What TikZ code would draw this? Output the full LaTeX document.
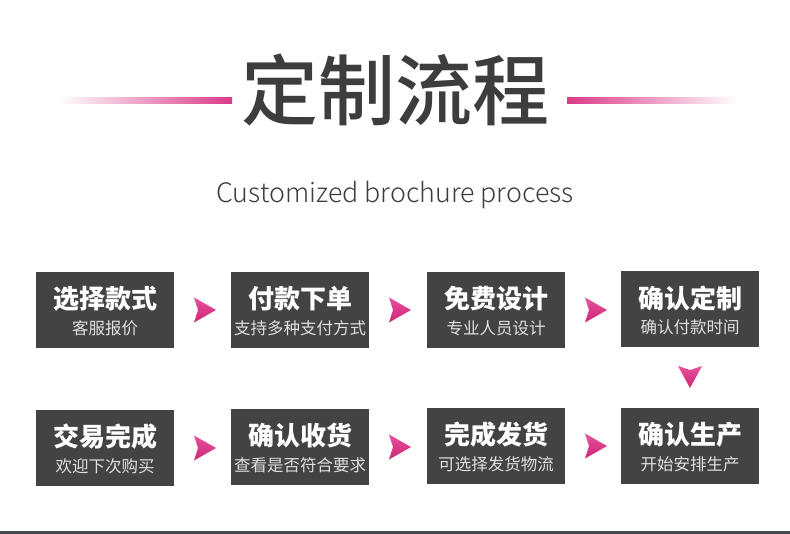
\documentclass[tikz,border=0pt]{standalone}
\usepackage{fontspec}
\newfontfamily\cjk{Noto Sans CJK SC}
\newfontfamily\cjkmed{Noto Sans CJK SC Medium}
\newfontfamily\cjklight{Noto Sans CJK SC Light}
\usetikzlibrary{calc}
\definecolor{boxgray}{HTML}{434343}
\definecolor{txtgray}{HTML}{3D3D3D}
\definecolor{pinkA}{HTML}{E8509F}
\definecolor{pinkB}{HTML}{CC2774}
\definecolor{linepink}{HTML}{DB3A88}
\definecolor{barcol}{HTML}{46464E}
\definecolor{subgray}{HTML}{E0E0E0}
\newcommand\procstep[5]{%
  \node[procbox, anchor=north west] (#1) at (#2,#3) {};
  \node[maintext] (#1-t) at ($(#1.center)+(0,-11)$) {#4};
  \node[subtext] (#1-s) at ($(#1.center)+(0,18)$) {#5};
}
\newcommand\rightarrowshape[1]{%
  \shade[arrowshade] (#1) ++(0,-12.5) -- ++(22,12.5) -- ++(-22,12.5) -- ++(4,-12.5) -- cycle;
}
\begin{document}
\begin{tikzpicture}[x=1pt,y=-1pt,
  procbox/.style={fill=boxgray, minimum width=138pt, minimum height=76pt, inner sep=0pt, outer sep=0pt},
  maintext/.style={text=white, font=\cjk\bfseries\fontsize{26}{26}\selectfont, inner sep=0pt},
  subtext/.style={text=subgray, font=\cjk\fontsize{16.5}{16.5}\selectfont, inner sep=0pt},
  arrowshade/.style={top color=pinkA, bottom color=pinkB, draw=none}]
\useasboundingbox (0,0) rectangle (790,534);
% title
\node[font=\cjkmed\fontsize{77}{77}\selectfont, text=txtgray, inner sep=0pt] (title) at (395,90) {定制流程};
\shade[left color=white, middle color=linepink!60, right color=linepink] (58,98) rectangle (232,104);
\shade[left color=linepink, middle color=linepink!60, right color=white] (567,98) rectangle (737,104);
\node[font=\cjklight\fontsize{26.8}{26.8}\selectfont, text=txtgray, anchor=base, inner sep=0pt] (subtitle) at (395,203) {Customized brochure process};
% boxes
\procstep{b1}{36}{272}{选择款式}{客服报价}
\procstep{b2}{231}{272}{付款下单}{支持多种支付方式}
\procstep{b3}{427}{272}{免费设计}{专业人员设计}
\procstep{b4}{621}{271}{确认定制}{确认付款时间}
\procstep{b5}{36}{410}{交易完成}{欢迎下次购买}
\procstep{b6}{231}{409}{确认收货}{查看是否符合要求}
\procstep{b7}{427}{408}{完成发货}{可选择发货物流}
\procstep{b8}{621}{408}{确认生产}{开始安排生产}
% arrows
\coordinate (a1) at ($(b1.east)+(20,0)$);
\coordinate (a2) at ($(b2.east)+(20,0)$);
\coordinate (a3) at ($(b3.east)+(20,0)$);
\coordinate (a5) at ($(b5.east)+(20,0)$);
\coordinate (a6) at ($(b6.east)+(20,0)$);
\coordinate (a7) at ($(b7.east)+(20,0)$);
\rightarrowshape{a1}
\rightarrowshape{a2}
\rightarrowshape{a3}
\rightarrowshape{a5}
\rightarrowshape{a6}
\rightarrowshape{a7}
\coordinate (a4) at ($(b4.south)+(0,19)$);
\shade[arrowshade] (a4) ++(-12,0) -- ++(12,22) -- ++(12,-22) -- ++(-12,4) -- cycle;
% bottom bar
\fill[barcol] (0,531) rectangle (790,534);
\end{tikzpicture}
\end{document}
